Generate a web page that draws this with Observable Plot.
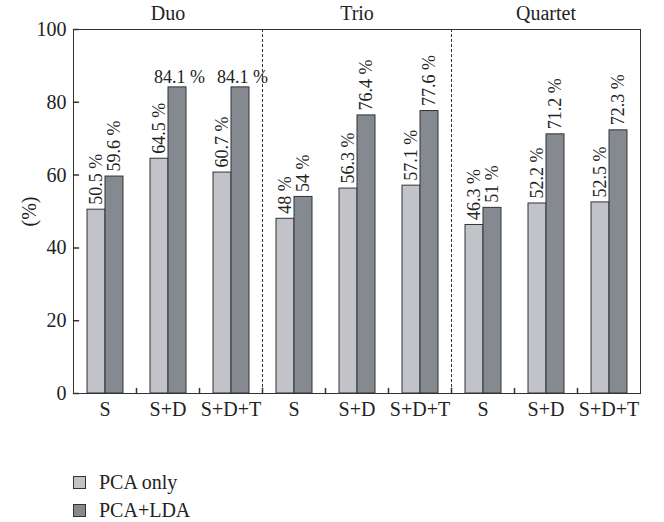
<!DOCTYPE html>
<html><head><meta charset="utf-8">
<script src="https://cdn.jsdelivr.net/npm/d3@7"></script>
<script src="https://cdn.jsdelivr.net/npm/@observablehq/plot@0.6"></script>
<style>
body{margin:0;background:#fff;font-family:"Liberation Serif",serif;color:#222;}
#legend{padding:38px 0 0 73px;font-size:20px;}
.item{height:28px;display:flex;align-items:center;}
.sw{width:11px;height:11px;border:1px solid #333;margin-right:13px;display:inline-block;}
</style></head><body><div id="chart"></div><div id="legend"></div>
<script>
const ensembles = ["Duo","Trio","Quartet"];
const features = ["S","S+D","S+D+T"];
const methods = ["PCA only","PCA+LDA"];
const pcaOnly = [50.5,64.5,60.7,48,56.3,57.1,46.3,52.2,52.5];
const pcaLda = [59.6,84.1,84.1,54,76.4,77.6,51,71.2,72.3];
const colors = ["#c1c3c9","#858a90"];
const yTicks = [0,20,40,60,80,100];

const groups = ensembles.flatMap(e => features.map(f => e + "|" + f));
const data = groups.flatMap((g, i) => [
  {group: g, method: methods[0], value: pcaOnly[i]},
  {group: g, method: methods[1], value: pcaLda[i]}
]);
const fmt = v => v + " %";
const titles = ensembles.map(e => ({group: e + "|" + features[1], label: e}));
const separators = ensembles.slice(0, -1).map(e => e + "|" + features[features.length - 1]);
const boundaries = groups.slice(0, -1);
const line = {draw(ctx, l) { ctx.moveTo(0, 0); ctx.lineTo(0, -l); }};

const chart = Plot.plot({
  width: 664, height: 430,
  marginLeft: 72, marginRight: 24, marginTop: 29, marginBottom: 37,
  style: {fontFamily: "'Liberation Serif', serif", fontSize: "18px", color: "#222", background: "#fff"},
  fx: {domain: groups, padding: 0, label: null},
  x: {domain: methods, paddingInner: 0, paddingOuter: 0.71, axis: null},
  y: {domain: [0, 100]},
  color: {domain: methods, range: colors},
  marks: [
    Plot.barY(data, {fx: "group", x: "method", y: "value", fill: "method", stroke: "#333", strokeWidth: 1}),
    Plot.text(data.filter(d => d.value < 80), {fx: "group", x: "method", y: "value", text: d => fmt(d.value),
      rotate: -90, textAnchor: "start", lineAnchor: "middle", dy: -5, fill: "#222", fontSize: 18}),
    Plot.text(data.filter(d => d.value >= 80), {fx: "group", x: "method", y: "value", text: d => fmt(d.value),
      lineAnchor: "bottom", dy: -4, dx: 2, fill: "#222", fontSize: 18}),
    Plot.text(titles, {fx: "group", text: "label", frameAnchor: "top", dy: -16, lineAnchor: "middle", fill: "#222", fontSize: 20}),
    Plot.vector(boundaries, {fx: d => d, frameAnchor: "bottom-right", length: 5, rotate: 0, anchor: "start", shape: line, stroke: "#333"}),
    Plot.vector(yTicks, {fx: () => groups[0], y: d => d, frameAnchor: "left", length: 5, rotate: 90, anchor: "start", shape: line, stroke: "#333"}),
    ...separators.map(s => Plot.frame({anchor: "right", fx: s, stroke: "#333", strokeDasharray: "2,3"})),
    Plot.axisY({ticks: yTicks, tickSize: 0, tickPadding: 7, fontSize: 20, label: "(%)", labelAnchor: "center", labelOffset: 52, labelArrow: "none"}),
    Plot.axisFx({anchor: "bottom", tickSize: 0, tickPadding: 8, fontSize: 20, label: null, tickFormat: g => g.split("|")[1]}),
    Plot.frame({facet: "super", stroke: "#333"})
  ]
});
document.getElementById("chart").append(chart);

const legend = document.getElementById("legend");
methods.forEach((m, i) => {
  const item = document.createElement("div");
  item.className = "item";
  const sw = document.createElement("span");
  sw.className = "sw";
  sw.style.background = colors[i];
  item.append(sw, document.createTextNode(m));
  legend.append(item);
});
</script></body></html>
